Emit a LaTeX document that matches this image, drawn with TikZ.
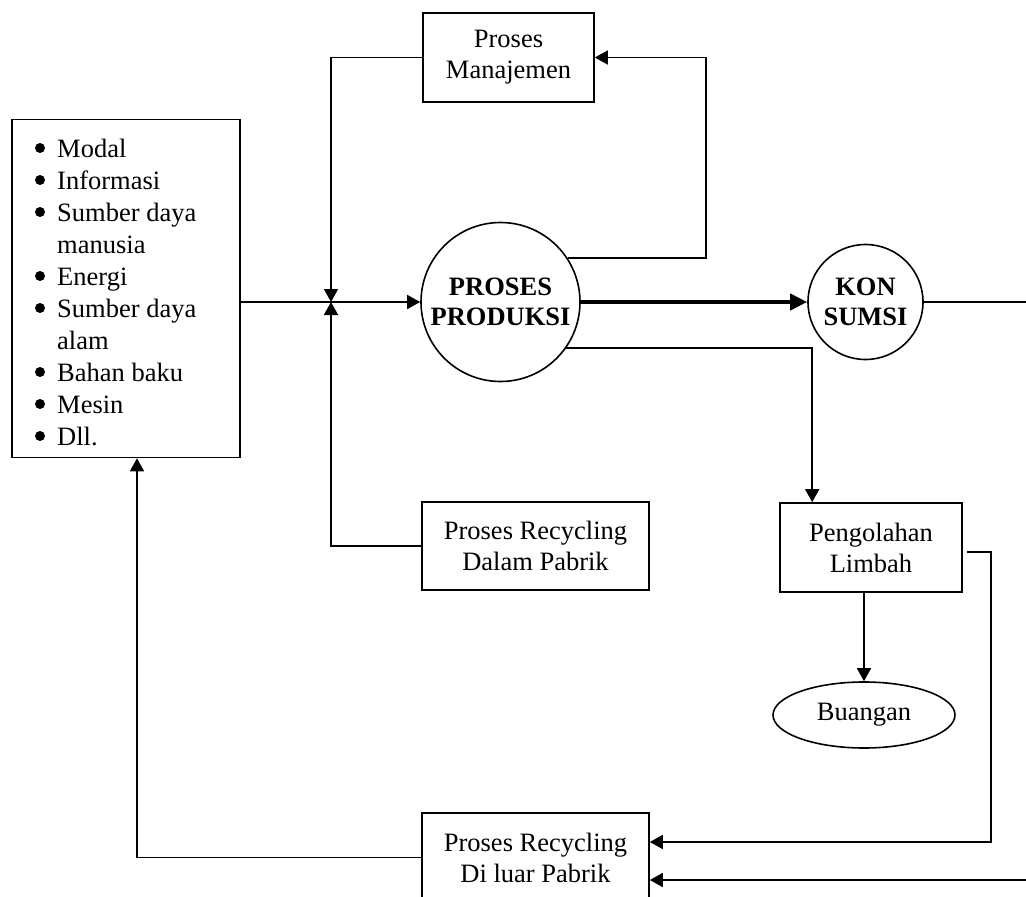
\documentclass[tikz,border=0pt]{standalone}
\usepackage{fontspec}
\setmainfont{Liberation Serif}
\usetikzlibrary{arrows.meta,shapes.geometric}
\begin{document}
\begin{tikzpicture}[x=1pt,y=-1pt,
  every node/.style={font=\fontsize{26.5}{31}\selectfont, align=center},
  box/.style={draw, line width=1.6pt, rectangle, inner sep=0pt},
  proc/.style={draw, line width=1.6pt, circle, inner sep=0pt,
               font=\fontsize{26.5}{30.5}\selectfont\bfseries},
  conn/.style={line width=1.6pt},
  arr/.style={conn, -{Triangle[length=13pt,width=14pt]}},
  thickarr/.style={line width=4pt, -{Triangle[length=17pt,width=16pt]}}]
\useasboundingbox (0,0) rectangle (1026,897);
\clip (0,0) rectangle (1026,897);

% input resources
\node[box, minimum width=228pt, minimum height=338pt] (inputs) at (126,288.5) {};
\node[anchor=north west, inner sep=0pt, align=left,
      font=\fontsize{26.5}{32}\selectfont] (list) at (57,139)
  {Modal\\
   Informasi\\
   Sumber daya\\
   manusia\\
   Energi\\
   Sumber daya\\
   alam\\
   Bahan baku\\
   Mesin\\
   Dll.};
% bullets of the list
\foreach \k in {0,1,2,4,5,7,8,9}
  \fill (40,{148+32*\k}) circle (5pt);

% process blocks
\node[box, minimum width=171pt, minimum height=89pt] (mgmt) at (508.5,57.5) {Proses\\Manajemen};
\node[proc, minimum size=159pt] (prod) at (500.5,302) {PROSES\\PRODUKSI};
\node[proc, minimum size=115pt] (kons) at (865.5,302) {KON\\SUMSI};
\node[box, minimum width=227pt, minimum height=88pt] (dalam) at (535.5,546) {Proses Recycling\\Dalam Pabrik};
\node[box, minimum width=182pt, minimum height=89pt] (limbah) at (871,547.5) {Pengolahan\\Limbah};
\node[draw, ellipse, line width=1.6pt, minimum width=182pt, minimum height=66pt, inner sep=0pt]
  (buangan) at (864,715) {Buangan};
\node[box, minimum width=227pt, minimum height=89pt] (luar) at (535.5,857.5) {Proses Recycling\\Di luar Pabrik};

% routing points
\coordinate (jn) at (331,302);
\coordinate (mr) at (706,57.5);
\coordinate (wr) at (991,842);
\coordinate (outR) at (1026,302);
\coordinate (inR) at (1026,880);

% connectors
\draw[arr] (inputs.east |- jn) -- (prod.west);
\draw[arr] (mgmt.west) -| (jn);
\draw[arr] (dalam.west) -| (jn);
\draw[arr] (prod.33) -| (mr) -- (mgmt.east);
\draw[thickarr] (prod.east) -- (kons.west);
\draw[conn] (kons.east) -- (outR);
\draw[arr] (prod.-35) -| ([xshift=33pt]limbah.north west);
\draw[arr] (buangan.north |- limbah.south) -- (buangan.north);
\draw[arr] ([xshift=4pt,yshift=-4.5pt]limbah.east) -| (wr) -- (luar.east |- wr);
\draw[arr] (inR) -- (luar.east |- inR);
\draw[arr] (luar.west) -| ([xshift=11pt]inputs.south);
\end{tikzpicture}
\end{document}
